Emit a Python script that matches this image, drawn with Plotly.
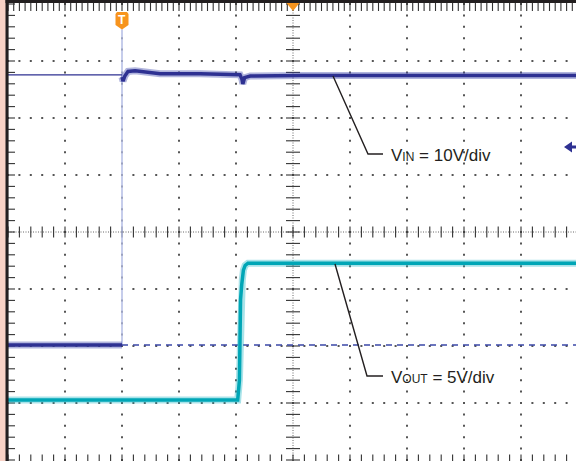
import numpy as np
import plotly.graph_objects as go

# ---------------- data (time in divisions, voltages in volts) ----------------
trigger_t = 2.0

vin_pre_t = [0.0, 2.0]
vin_pre_v = [0.0, 0.0]

vin_ref_t = [0.0, 2.0]          # thin reference level drawn before the trigger
vin_ref_v = [47.4, 47.4]

vin_post_t = [2.0, 2.018, 2.05, 2.105, 2.23, 2.40, 2.67, 3.37, 4.07, 4.105, 4.12, 4.15, 4.25, 5.12, 6.88, 9.97]
vin_post_v = [47.0, 46.3, 47.2, 48.0, 48.1, 47.9, 47.6, 47.6, 47.4, 46.6, 45.8, 46.9, 47.2, 47.3, 47.3, 47.3]

vin_gnd_t = [2.0, 9.97]         # dashed 0 V line after trigger
vin_gnd_v = [0.0, 0.0]

trig_edge_t = [2.0, 2.0]
trig_edge_v = [0.0, 55.4]

vout_t = [0.0, 4.03, 4.06, 4.07, 4.08, 4.10, 4.11, 4.13, 4.16, 4.21, 9.97]
vout_v = [0.0, 0.0, 1.75, 4.8, 8.8, 10.1, 10.5, 11.4, 11.8, 12.0, 12.0]

VIN_SCALE, VIN_OFFSET = 10.0, 2.0175     # V/div, screen offset (div)
VOUT_SCALE, VOUT_OFFSET = 5.0, 1.0526

label_vin = "V<span style='font-size:12px'>IN</span> = 10V/div"
label_vout = "V<span style='font-size:12px'>OUT</span> = 5V/div"

# ---------------- geometry helpers ----------------
DIV = 57.0
W, H, LM = 576, 461, 8
def X(px):
    return (px - 8) / DIV
def Y(py):
    return (460 - py) / DIV

vin_s = lambda v: [VIN_OFFSET + a / VIN_SCALE for a in v]
vout_s = lambda v: [VOUT_OFFSET + a / VOUT_SCALE for a in v]

DARK_BLUE = "#2e3192"
HALO_BLUE = "rgba(60,70,170,0.40)"
TEAL = "#00a6b6"
HALO_TEAL = "rgba(40,185,200,0.40)"
INK = "#231f20"
ORANGE = "#f7941d"

fig = go.Figure()

# grid dots
gx, gy = [], []
for i in range(1, 10):
    if i == 5:
        continue
    for k in range(0, 41):
        gx.append(i); gy.append(k * 0.2)
for j in range(1, 8):
    if j == 4:
        continue
    for k in range(0, 51):
        gx.append(k * 0.2); gy.append(j)
fig.add_trace(go.Scatter(x=gx, y=gy, mode="markers", hoverinfo="skip",
                         marker=dict(symbol="square", size=2, color="#555", line=dict(width=0))))

# center-line ticks and edge ticks
mk = np.arange(0, 51) * 0.2
mky = np.arange(0, 41) * 0.2
fig.add_trace(go.Scatter(x=list(mk) + list(mk), y=[4] * len(mk) + [0] * len(mk), mode="markers", hoverinfo="skip",
                         marker=dict(symbol="line-ns", size=8, line=dict(width=1.1, color="#333"))))
fig.add_trace(go.Scatter(x=list(np.arange(0, 101) * 0.1), y=[8] * 101, mode="markers", hoverinfo="skip",
                         marker=dict(symbol="line-ns", size=10, line=dict(width=1.1, color="#333"))))
fig.add_trace(go.Scatter(x=[5] * len(mky) + [0] * len(mky), y=list(mky) + list(mky), mode="markers", hoverinfo="skip",
                         marker=dict(symbol="line-ew", size=10, line=dict(width=1.1, color="#333"))))

# traces
fig.add_trace(go.Scatter(x=trig_edge_t, y=vin_s(trig_edge_v), mode="lines", line=dict(color="#b3bde4", width=1.5), hoverinfo="skip"))
fig.add_trace(go.Scatter(x=vin_gnd_t, y=vin_s(vin_gnd_v), mode="lines", line=dict(color="#3b48a8", width=1.4, dash="6px,5px"), hoverinfo="skip"))
fig.add_trace(go.Scatter(x=vin_ref_t, y=vin_s(vin_ref_v), mode="lines", line=dict(color=DARK_BLUE, width=1.3), hoverinfo="skip"))
for t, v in [(vin_pre_t, vin_pre_v), (vin_post_t, vin_post_v)]:
    fig.add_trace(go.Scatter(x=t, y=vin_s(v), mode="lines", line=dict(color=HALO_BLUE, width=7), hoverinfo="skip"))
    fig.add_trace(go.Scatter(x=t, y=vin_s(v), mode="lines", line=dict(color=DARK_BLUE, width=3.5), hoverinfo="skip"))
fig.add_trace(go.Scatter(x=vout_t, y=vout_s(vout_v), mode="lines", line=dict(color=HALO_TEAL, width=7), hoverinfo="skip"))
fig.add_trace(go.Scatter(x=vout_t, y=vout_s(vout_v), mode="lines", line=dict(color=TEAL, width=3.5), hoverinfo="skip"))

shapes = []
# dense centre lines
shapes.append(dict(type="line", x0=5, x1=5, y0=Y(461), y1=8, line=dict(color="#666", width=1, dash="1px,1.5px"), layer="below"))
shapes.append(dict(type="line", x0=X(8), x1=X(576), y0=4, y1=4, line=dict(color="#666", width=1, dash="1px,1.5px"), layer="below"))
# black left border (paper coords, unclipped) and top border
pw = W - LM
shapes.append(dict(type="rect", xref="paper", yref="paper", x0=-2.5 / pw, x1=0.6 / pw, y0=0, y1=1,
                   fillcolor=INK, line=dict(width=0), layer="above"))
shapes.append(dict(type="rect", xref="paper", yref="paper", x0=-2.5 / pw, x1=1, y0=1 - 3.0 / H, y1=1,
                   fillcolor=INK, line=dict(width=0), layer="above"))
# leader lines
for pts in [[(333, 76), (368, 154), (383, 154)], [(335, 264), (367, 376), (383, 376)]]:
    path = "M " + " L ".join(f"{X(a):.4f},{Y(b):.4f}" for a, b in pts)
    shapes.append(dict(type="path", path=path, line=dict(color=INK, width=1.4), layer="above"))
# trigger marker (T)
tx = 8 + trigger_t * DIV
tpts = [(tx - 6.5, 14), (tx - 5, 12), (tx + 5, 12), (tx + 6.5, 14), (tx + 6.5, 25), (tx, 29.5), (tx - 6.5, 25)]
shapes.append(dict(type="path", path="M " + " L ".join(f"{X(a):.4f},{Y(b):.4f}" for a, b in tpts) + " Z",
                   fillcolor=ORANGE, line=dict(width=0), layer="above"))
# center time marker
cx = 8 + 5 * DIV
cpts = [(cx - 6.5, 3), (cx + 6.5, 3), (cx, 11)]
shapes.append(dict(type="path", path="M " + " L ".join(f"{X(a):.4f},{Y(b):.4f}" for a, b in cpts) + " Z",
                   fillcolor=ORANGE, line=dict(width=0), layer="above"))
# trigger level arrow at right edge
apts = [(564, 147), (572, 141.5), (572, 145.5), (577, 145.5), (577, 148.5), (572, 148.5), (572, 152.5)]
shapes.append(dict(type="path", path="M " + " L ".join(f"{X(a):.4f},{Y(b):.4f}" for a, b in apts) + " Z",
                   fillcolor="#2e3192", line=dict(width=0), layer="above"))

annotations = [
    dict(x=X(389), y=Y(155), xref="x", yref="y", text=label_vin, showarrow=False, xanchor="left", yanchor="middle",
         font=dict(family="Liberation Sans, Arial, sans-serif", size=17, color=INK)),
    dict(x=X(389), y=Y(377), xref="x", yref="y", text=label_vout, showarrow=False, xanchor="left", yanchor="middle",
         font=dict(family="Liberation Sans, Arial, sans-serif", size=17, color=INK)),
    dict(x=trigger_t, y=Y(19.5), xref="x", yref="y", text="<b>T</b>", showarrow=False, xanchor="center", yanchor="middle",
         font=dict(family="Liberation Sans, Arial, sans-serif", size=12, color="white")),
]

fig.update_layout(
    width=W, height=H,
    margin=dict(l=LM, r=0, t=0, b=0, pad=0, autoexpand=False),
    paper_bgcolor="#f8d2c6", plot_bgcolor="white",
    showlegend=False,
    xaxis=dict(range=[X(8), X(576)], showgrid=False, zeroline=False, showticklabels=False, ticks="", fixedrange=True),
    yaxis=dict(range=[Y(461), Y(0)], showgrid=False, zeroline=False, showticklabels=False, ticks="", fixedrange=True),
    shapes=shapes, annotations=annotations,
)

fig.write_html("out.html", config={"displayModeBar": False},
               post_script="document.body.style.margin='0';document.body.style.padding='0';document.body.style.overflow='hidden';")
